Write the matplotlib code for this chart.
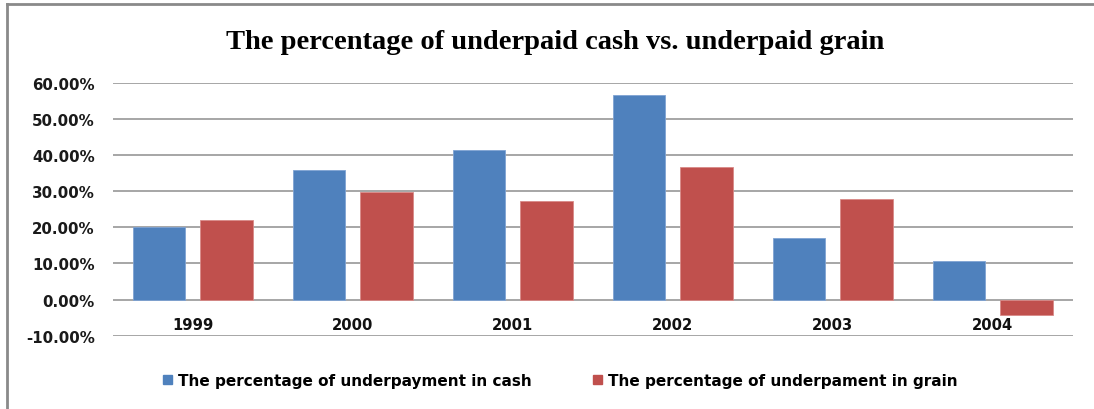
import matplotlib.pyplot as plt
from matplotlib.lines import Line2D
from matplotlib.patches import Patch
import numpy as np

years = ['1999', '2000', '2001', '2002', '2003', '2004']
cash = [0.202, 0.360, 0.414, 0.566, 0.171, 0.107]
grain = [0.221, 0.299, 0.274, 0.367, 0.278, -0.042]
yticks = [-0.1, 0.0, 0.1, 0.2, 0.3, 0.4, 0.5, 0.6]

blue = '#4F81BD'
red = '#C0504D'

fig = plt.figure(figsize=(10.94, 4.10), dpi=100)
ax = fig.add_axes([0.103, 0.179, 0.8775, 0.616])

x = np.arange(len(years))
w = 0.33
ax.bar(x - 0.21, cash, w, color=blue, edgecolor='#7fa3d3', linewidth=0.6, zorder=3)
ax.bar(x + 0.21, grain, w, color=red, edgecolor='#d98a88', linewidth=0.6, zorder=3)

ax.set_xlim(-0.5, len(years) - 0.5)
ax.set_ylim(-0.1, 0.6)
ax.set_yticks(yticks)
ax.set_yticklabels([f'{v*100:.2f}%' for v in yticks], fontsize=10.8, fontweight='bold', color='#1a1a1a')
ax.tick_params(axis='y', length=0, pad=13)
ax.set_xticks([])
for v in yticks:
    ax.axhline(v, color='#a6a6a6', lw=1.4, zorder=1)
for s in ax.spines.values():
    s.set_visible(False)

for i, yr in enumerate(years):
    ax.text(i, -0.069, yr, ha='center', va='center', fontsize=10.6, fontweight='bold', color='#111111')

fig.text(0.507, 0.897, 'The percentage of underpaid cash vs. underpaid grain',
         ha='center', va='center', fontsize=20.5, fontweight='bold', family='Liberation Serif')

handles = [Patch(color=blue), Patch(color=red)]
fig.legend(handles, ['The percentage of underpayment in cash', 'The percentage of underpament in grain'],
           loc='center', bbox_to_anchor=(0.512, 0.07), ncol=2, frameon=False,
           prop={'size': 11, 'weight': 'bold'}, handlelength=0.6, handleheight=0.6,
           handletextpad=0.4, columnspacing=4.0)

# outer chart frame
fig.add_artist(Line2D([7 / 1094, 7 / 1094], [0, 1 - 5 / 410], color='#8a8a8a', lw=2))
fig.add_artist(Line2D([7 / 1094, 1], [1 - 5 / 410, 1 - 5 / 410], color='#8a8a8a', lw=2))

fig.savefig('out.png', dpi=100)
